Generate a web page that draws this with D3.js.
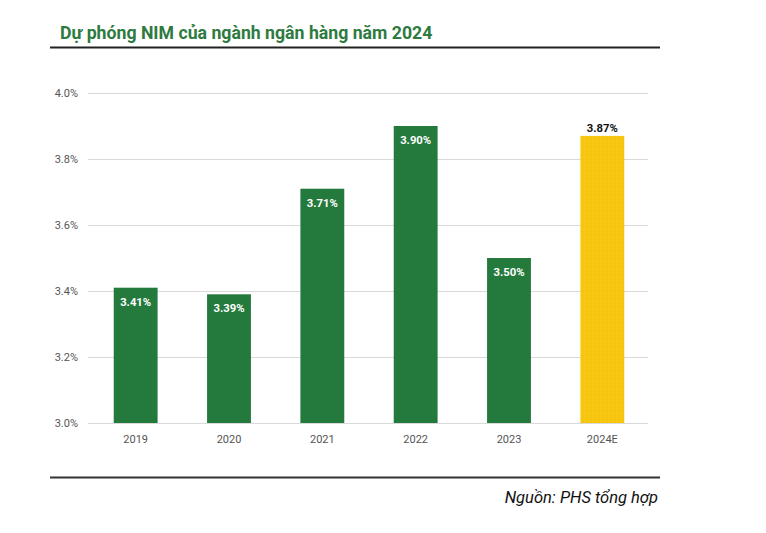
<!DOCTYPE html>
<html><head><meta charset="utf-8">
<script src="https://cdn.jsdelivr.net/npm/d3@7"></script>
<style>body{margin:0;background:#fff;font-family:Roboto,Arial,sans-serif;}</style>
</head><body>
<svg id="chart" width="766" height="533"></svg>
<script>
const categories = ["2019","2020","2021","2022","2023","2024E"];
const values = [3.41, 3.39, 3.71, 3.90, 3.50, 3.87];
const valueLabels = ["3.41%","3.39%","3.71%","3.90%","3.50%","3.87%"];
const forecast = [false,false,false,false,false,true];
const yTicks = [3.0, 3.2, 3.4, 3.6, 3.8, 4.0];
const title = "Dự phóng NIM của ngành ngân hàng năm 2024";
const source = "Nguồn: PHS tổng hợp";

const svg = d3.select("#chart");
const green = "#247a3c", yellow = "#f7c50c";

const defs = svg.append("defs");
const pat = defs.append("pattern").attr("id","dots").attr("width",4).attr("height",4).attr("patternUnits","userSpaceOnUse");
pat.append("rect").attr("width",4).attr("height",4).attr("fill",yellow);
pat.append("circle").attr("cx",1).attr("cy",1).attr("r",0.6).attr("fill","#fbd94a");

svg.append("text").attr("x",60).attr("y",39).text(title)
  .attr("font-family","Roboto, sans-serif").attr("font-weight","bold").attr("font-size",17.7).attr("fill","#2e7a3f");
svg.append("line").attr("x1",50).attr("x2",660).attr("y1",47.5).attr("y2",47.5).attr("stroke","#222").attr("stroke-width",2);
svg.append("line").attr("x1",50).attr("x2",660).attr("y1",477.5).attr("y2",477.5).attr("stroke","#333").attr("stroke-width",2);
svg.append("text").attr("x",658).attr("y",503).attr("text-anchor","end").text(source)
  .attr("font-family","Roboto, sans-serif").attr("font-style","italic").attr("font-size",16.5).attr("fill","#111");

const x = d3.scaleBand().domain(categories).range([89,649]).paddingInner(0.53).paddingOuter(0.265);
const y = d3.scaleLinear().domain([3.0,4.0]).range([423,93]);

const grid = svg.append("g");
grid.selectAll("line").data(yTicks).join("line")
  .attr("x1",88).attr("x2",648).attr("y1",d=>Math.round(y(d))+0.5).attr("y2",d=>Math.round(y(d))+0.5)
  .attr("stroke","#d9d9d9").attr("stroke-width",1);

const yAxis = svg.append("g").attr("transform","translate(88,0)")
  .call(d3.axisLeft(y).tickValues(yTicks).tickFormat(d=>d.toFixed(1)+"%").tickSize(0).tickPadding(10));
yAxis.select(".domain").remove();
yAxis.selectAll("text").attr("font-family","Roboto, sans-serif").attr("font-size",11).attr("fill","#555");

const xAxis = svg.append("g").attr("transform","translate(0,423)")
  .call(d3.axisBottom(x).tickSize(0).tickPadding(12));
xAxis.select(".domain").remove();
xAxis.selectAll("text").attr("font-family","Roboto, sans-serif").attr("font-size",11).attr("fill","#555");

const data = categories.map((c,i)=>({c,v:values[i],l:valueLabels[i],f:forecast[i]}));
svg.append("g").selectAll("rect").data(data).join("rect")
  .attr("x",d=>x(d.c)).attr("width",x.bandwidth())
  .attr("y",d=>y(d.v)).attr("height",d=>y(3.0)-y(d.v))
  .attr("fill",d=>d.f?"url(#dots)":green);

svg.append("g").selectAll("text").data(data).join("text")
  .attr("x",d=>x(d.c)+x.bandwidth()/2)
  .attr("y",d=>d.f? y(d.v)-4 : y(d.v)+18)
  .attr("text-anchor","middle").text(d=>d.l)
  .attr("font-family","Roboto, sans-serif").attr("font-weight","bold").attr("font-size",11.3)
  .attr("fill",d=>d.f?"#111":"#fff");
</script>
</body></html>
